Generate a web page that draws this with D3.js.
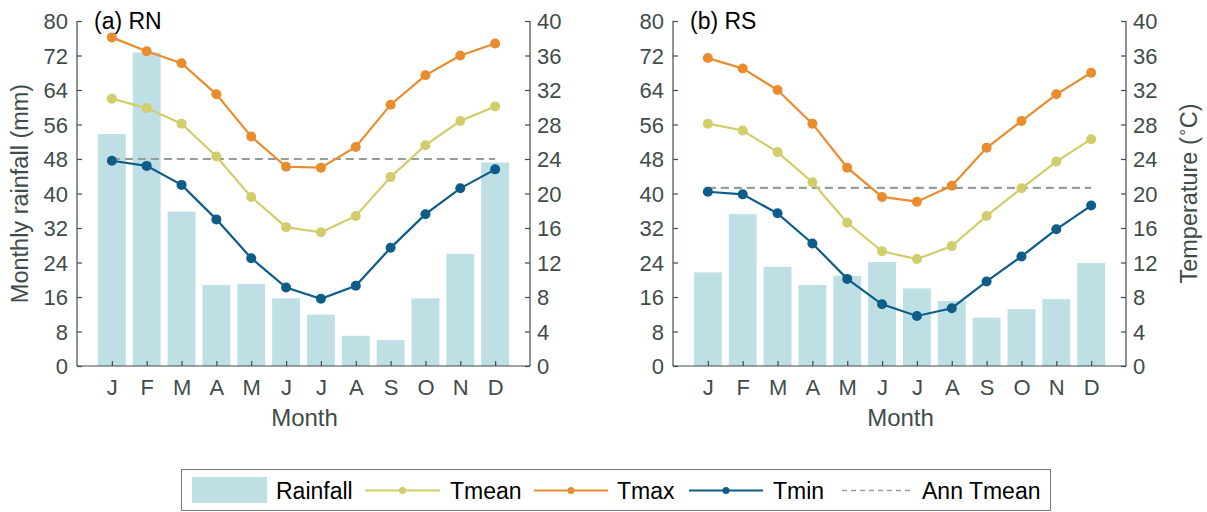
<!DOCTYPE html>
<html>
<head>
<meta charset="utf-8">
<script src="https://cdn.jsdelivr.net/npm/d3@7"></script>
<style>
  body { margin: 0; background: #fff; }
  svg { font-family: "Liberation Sans", Arial, sans-serif; }
</style>
</head>
<body>
<svg id="chart" width="1207" height="512"></svg>
<script>
// month labels and axis ticks
var months = ["J", "F", "M", "A", "M", "J", "J", "A", "S", "O", "N", "D"];
var rainTicks = [0, 8, 16, 24, 32, 40, 48, 56, 64, 72, 80];
var tempTicks = [0, 4, 8, 12, 16, 20, 24, 28, 32, 36, 40];

// (a) RN
var rnRain = [53.8, 72.7, 35.8, 18.8, 19.0, 15.7, 11.9, 7.0, 6.0, 15.7, 26.0, 47.2];
var rnTmean = [31.0, 29.9, 28.1, 24.3, 19.6, 16.1, 15.5, 17.4, 21.9, 25.6, 28.4, 30.1];
var rnTmax = [38.1, 36.5, 35.1, 31.5, 26.6, 23.1, 23.0, 25.4, 30.3, 33.7, 36.0, 37.4];
var rnTmin = [23.8, 23.2, 21.0, 17.0, 12.5, 9.1, 7.8, 9.3, 13.7, 17.6, 20.6, 22.8];
var rnAnnTmean = 24.0;

// (b) RS
var rsRain = [21.7, 35.2, 23.0, 18.8, 20.9, 24.1, 18.0, 15.1, 11.2, 13.2, 15.5, 23.9];
var rsTmean = [28.1, 27.3, 24.8, 21.3, 16.6, 13.3, 12.4, 13.9, 17.4, 20.6, 23.7, 26.3];
var rsTmax = [35.7, 34.5, 32.0, 28.1, 23.0, 19.6, 19.05, 20.9, 25.3, 28.4, 31.5, 34.0];
var rsTmin = [20.2, 19.9, 17.7, 14.2, 10.1, 7.15, 5.8, 6.7, 9.8, 12.7, 15.85, 18.6];
var rsAnnTmean = 20.65;

var colors = {
  rain: "#bedfe4",
  tmean: "#d2cd6b",
  tmax: "#e98c2e",
  tmin: "#0d5d88",
  ann: "#949e99",
  axis: "#3f4d4a"
};

var svg = d3.select("#chart");
var plotTop = 21, plotBottom = 366, plotW = 453;

function drawPanel(left, title, rain, tmean, tmax, tmin, ann, showRight) {
  var g = svg.append("g");

  var x = d3.scaleLinear().domain([0, 13]).range([left, left + plotW]);
  var yRain = d3.scaleLinear().domain([0, 80]).range([plotBottom, plotTop]);
  var yTemp = d3.scaleLinear().domain([0, 40]).range([plotBottom, plotTop]);
  var bw = x(0.8) - x(0);

  // rainfall bars
  g.selectAll("rect.bar")
    .data(rain)
    .enter()
    .append("rect")
    .attr("class", "bar")
    .attr("x", function(d, i) { return x(i + 1) - bw / 2; })
    .attr("y", function(d) { return yRain(d); })
    .attr("width", bw)
    .attr("height", function(d) { return yRain(0) - yRain(d); })
    .attr("fill", colors.rain);

  // annual mean line
  g.append("line")
    .attr("x1", x(1))
    .attr("x2", x(12))
    .attr("y1", yTemp(ann))
    .attr("y2", yTemp(ann))
    .attr("stroke", colors.ann)
    .attr("stroke-width", 2.2)
    .attr("stroke-dasharray", "8,5");

  var line = d3.line()
    .x(function(d, i) { return x(i + 1); })
    .y(function(d) { return yTemp(d); });

  [[tmean, colors.tmean], [tmax, colors.tmax], [tmin, colors.tmin]].forEach(function(s) {
    g.append("path")
      .attr("d", line(s[0]))
      .attr("fill", "none")
      .attr("stroke", s[1])
      .attr("stroke-width", 2.2);
    g.selectAll(null)
      .data(s[0])
      .enter()
      .append("circle")
      .attr("cx", function(d, i) { return x(i + 1); })
      .attr("cy", function(d) { return yTemp(d); })
      .attr("r", 5)
      .attr("fill", s[1]);
  });

  // axes
  var xAxis = d3.axisBottom(x)
    .tickValues(d3.range(1, 13))
    .tickSize(-5)
    .tickPadding(14)
    .tickFormat(function(d) { return months[d - 1]; });
  var leftAxis = d3.axisLeft(yRain).tickValues(rainTicks).tickSize(-5).tickPadding(9);
  var rightAxis = d3.axisRight(yTemp).tickValues(tempTicks).tickSize(-5).tickPadding(7);

  var ax = g.append("g").attr("transform", "translate(0," + plotBottom + ")").call(xAxis);
  var al = g.append("g").attr("transform", "translate(" + left + ",0)").call(leftAxis);
  var ar = g.append("g").attr("transform", "translate(" + (left + plotW) + ",0)").call(rightAxis);

  [ax, al, ar].forEach(function(a) {
    a.select(".domain").remove();
    a.selectAll(".tick line").attr("stroke", colors.axis).attr("stroke-width", 1.2);
    a.selectAll("text")
      .attr("fill", colors.axis)
      .style("font-size", "22px")
      .style("font-family", "Liberation Sans, Arial, sans-serif");
  });
  ax.selectAll("text").attr("dy", null).attr("y", 29);
  al.selectAll("text").attr("dy", "0.36em");
  ar.selectAll("text").attr("dy", "0.36em");

  // axis lines
  g.append("line")
    .attr("x1", left).attr("x2", left + plotW)
    .attr("y1", plotBottom).attr("y2", plotBottom)
    .attr("stroke", colors.axis).attr("stroke-width", 1.2);
  g.append("line")
    .attr("x1", left).attr("x2", left)
    .attr("y1", plotTop).attr("y2", plotBottom)
    .attr("stroke", colors.axis).attr("stroke-width", 1.2);
  g.append("line")
    .attr("x1", left + plotW).attr("x2", left + plotW)
    .attr("y1", plotTop).attr("y2", plotBottom)
    .attr("stroke", colors.axis).attr("stroke-width", 1.2);

  g.append("text")
    .attr("x", left + 17)
    .attr("y", 29)
    .attr("fill", "#000")
    .style("font-size", "23px")
    .text(title);

  g.append("text")
    .attr("x", left + plotW / 2 + 1)
    .attr("y", 426)
    .attr("text-anchor", "middle")
    .attr("fill", colors.axis)
    .style("font-size", "24px")
    .text("Month");

  if (!showRight) {
    g.append("text")
      .attr("transform", "translate(28," + (plotTop + plotBottom) / 2 + ") rotate(-90)")
      .attr("text-anchor", "middle")
      .attr("fill", colors.axis)
      .style("font-size", "23.5px")
      .text("Monthly rainfall (mm)");
  } else {
    var t = g.append("text")
      .attr("transform", "translate(1197," + (plotTop + plotBottom) / 2 + ") rotate(-90)")
      .attr("text-anchor", "middle")
      .attr("fill", colors.axis)
      .style("font-size", "23.5px");
    t.append("tspan").text("Temperature (");
    t.append("tspan").attr("dy", -10).style("font-size", "15px").text("\u2218");
    t.append("tspan").attr("dy", 10).text("C)");
  }
}

drawPanel(77, "(a) RN", rnRain, rnTmean, rnTmax, rnTmin, rnAnnTmean, false);
drawPanel(673, "(b) RS", rsRain, rsTmean, rsTmax, rsTmin, rsAnnTmean, true);

// legend
var legend = svg.append("g");
legend.append("rect")
  .attr("x", 181.5).attr("y", 469.5)
  .attr("width", 869).attr("height", 41)
  .attr("fill", "#fff")
  .attr("stroke", "#7a7a7a")
  .attr("stroke-width", 1);

var legendItems = [
  { name: "Rainfall", type: "bar", color: colors.rain, x0: 192, x1: 267, tx: 276 },
  { name: "Tmean", type: "marker", color: colors.tmean, x0: 365, x1: 440, tx: 450 },
  { name: "Tmax", type: "marker", color: colors.tmax, x0: 534, x1: 608, tx: 617 },
  { name: "Tmin", type: "marker", color: colors.tmin, x0: 689, x1: 763, tx: 773 },
  { name: "Ann Tmean", type: "dash", color: colors.ann, x0: 842, x1: 912, tx: 922 }
];
var ly = 490.5;
legendItems.forEach(function(it) {
  if (it.type === "bar") {
    legend.append("rect")
      .attr("x", it.x0).attr("y", 477)
      .attr("width", it.x1 - it.x0).attr("height", 26)
      .attr("fill", it.color);
  } else {
    legend.append("line")
      .attr("x1", it.x0).attr("x2", it.x1)
      .attr("y1", ly).attr("y2", ly)
      .attr("stroke", it.color)
      .attr("stroke-width", it.type === "dash" ? 1.5 : 2)
      .attr("stroke-dasharray", it.type === "dash" ? "5,4" : null);
    if (it.type === "marker") {
      legend.append("circle")
        .attr("cx", (it.x0 + it.x1) / 2).attr("cy", ly)
        .attr("r", 3.5).attr("fill", it.color);
    }
  }
  legend.append("text")
    .attr("x", it.tx).attr("y", 499)
    .attr("fill", "#000")
    .style("font-size", "23px")
    .text(it.name);
});
</script>
</body>
</html>
